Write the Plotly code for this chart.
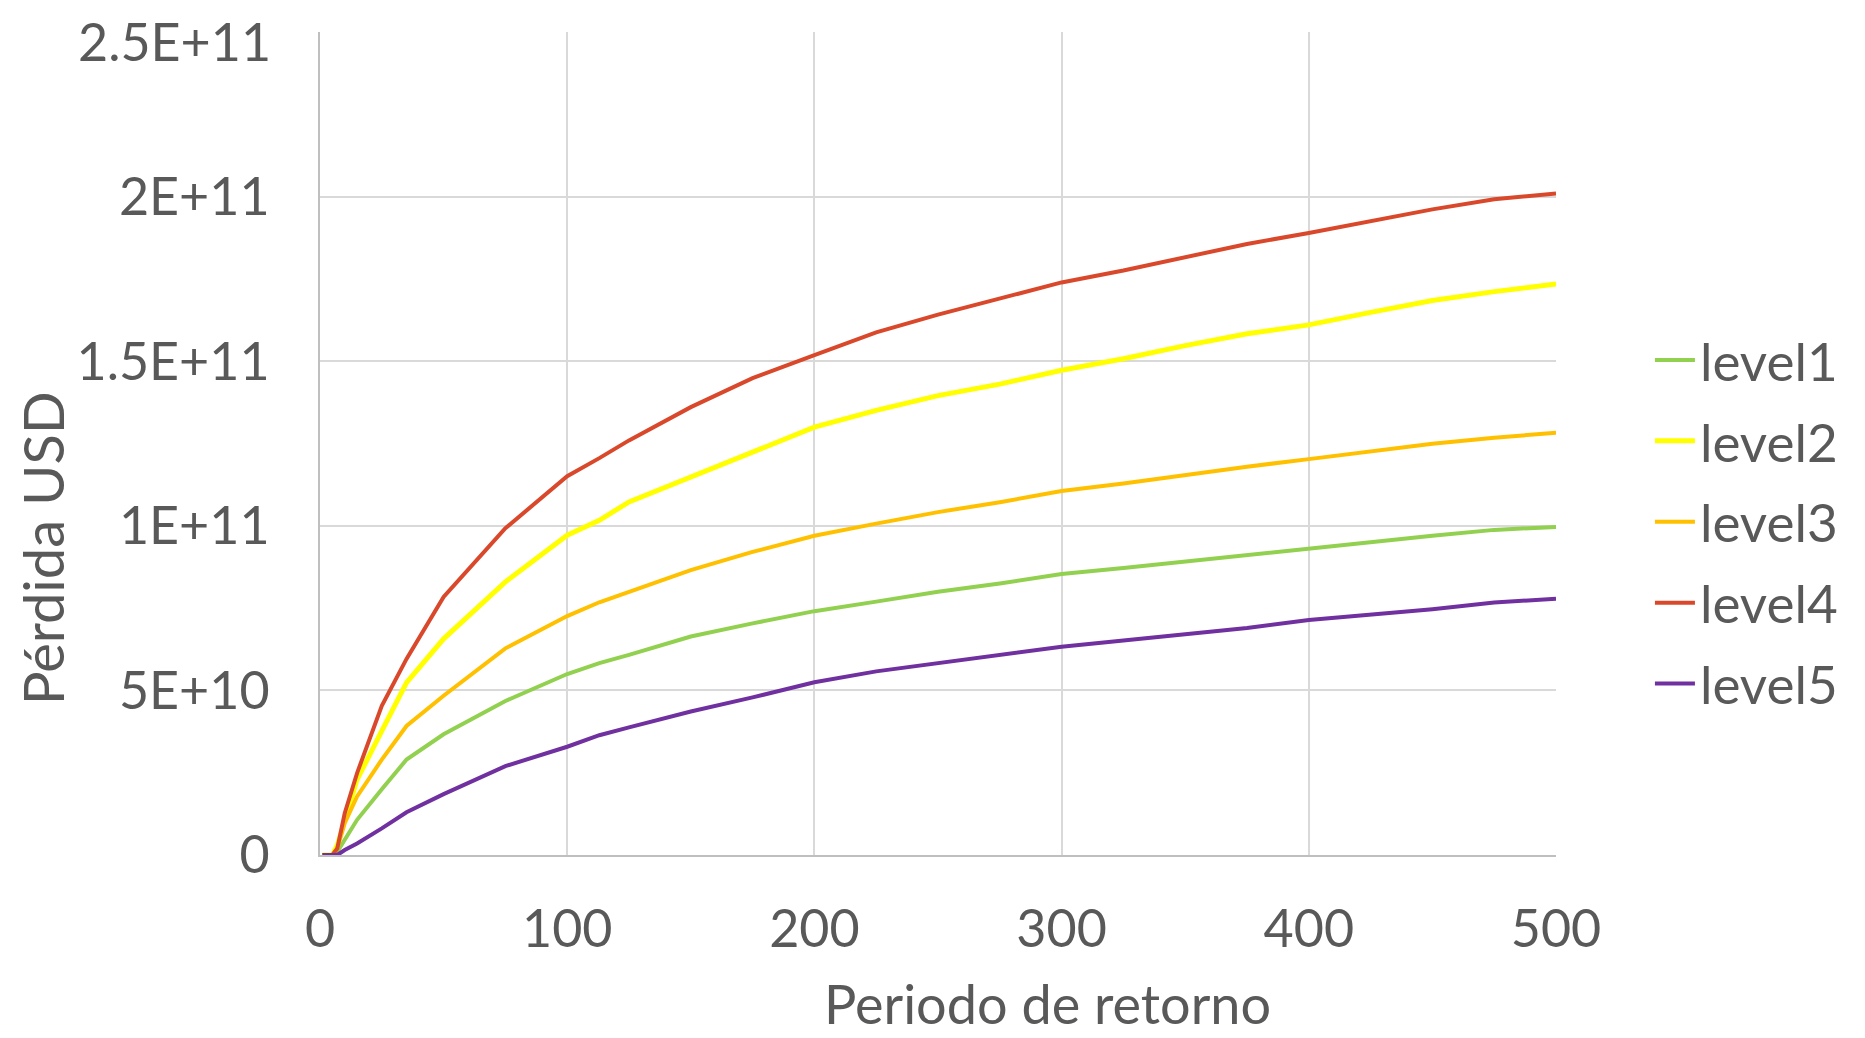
import plotly.graph_objects as go

periodo = [1, 5, 7, 10, 15, 25, 35, 50, 75, 100, 113, 125, 150, 175, 200, 225, 250,
           275, 300, 325, 350, 375, 400, 425, 450, 475, 500]

level1 = [0, 0, 1.0e9, 4.6e9, 1.07e10, 2.0e10, 2.9e10, 3.67e10, 4.68e10, 5.5e10, 5.83e10, 6.08e10,
          6.64e10, 7.04e10, 7.41e10, 7.7e10, 8.0e10, 8.25e10, 8.54e10, 8.72e10, 8.92e10, 9.1e10,
          9.29e10, 9.49e10, 9.7e10, 9.88e10, 9.97e10]
level2 = [0, 0, 3.0e9, 1.07e10, 2.29e10, 3.77e10, 5.24e10, 6.57e10, 8.3e10, 9.72e10, 1.017e11, 1.073e11,
          1.148e11, 1.222e11, 1.3e11, 1.351e11, 1.396e11, 1.431e11, 1.473e11, 1.508e11, 1.548e11, 1.584e11,
          1.611e11, 1.649e11, 1.685e11, 1.712e11, 1.735e11]
level3 = [0, 0, 2.0e9, 9.7e9, 1.78e10, 2.9e10, 3.92e10, 4.84e10, 6.28e10, 7.26e10, 7.68e10, 8.0e10,
          8.66e10, 9.21e10, 9.7e10, 1.007e11, 1.042e11, 1.072e11, 1.106e11, 1.129e11, 1.155e11, 1.18e11,
          1.203e11, 1.227e11, 1.25e11, 1.268e11, 1.283e11]
level4 = [0, 0, 2.0e9, 1.27e10, 2.49e10, 4.53e10, 5.96e10, 7.84e10, 9.93e10, 1.151e11, 1.206e11, 1.26e11,
          1.361e11, 1.449e11, 1.519e11, 1.588e11, 1.642e11, 1.69e11, 1.74e11, 1.776e11, 1.818e11, 1.857e11,
          1.89e11, 1.925e11, 1.962e11, 1.993e11, 2.01e11]
level5 = [0, 0, 0, 1.5e9, 3.5e9, 8.1e9, 1.3e10, 1.85e10, 2.7e10, 3.29e10, 3.64e10, 3.88e10,
          4.36e10, 4.79e10, 5.25e10, 5.58e10, 5.83e10, 6.08e10, 6.33e10, 6.52e10, 6.7e10, 6.9e10,
          7.14e10, 7.3e10, 7.47e10, 7.67e10, 7.79e10]

series = [("level1", level1, "#92D050", 4),
          ("level2", level2, "#FFFF00", 5),
          ("level3", level3, "#FFC000", 4),
          ("level4", level4, "#D9482B", 4),
          ("level5", level5, "#7030A0", 4)]

x_ticks = [0, 100, 200, 300, 400, 500]
y_ticks = [0, 5e10, 1e11, 1.5e11, 2e11, 2.5e11]
y_ticklabels = ["0", "5E+10", "1E+11", "1.5E+11", "2E+11", "2.5E+11"]

FONT = "Century Gothic, URW Gothic, Lato, sans-serif"
TXT = "#595959"

# page has an 8px body margin, so the figure is drawn 8px in from the window corner
W, H = 1857, 1030
L, T, PW, PH = 312, 24, 1236, 823

fig = go.Figure()
for name, vals, color, w in series:
    fig.add_trace(go.Scatter(x=periodo, y=vals, mode="lines", name=name, legendgroup=name,
                             line=dict(color=color, width=w)))

fig.update_layout(
    width=W, height=H,
    margin=dict(l=L, r=W - L - PW, t=T, b=H - T - PH, autoexpand=False),
    paper_bgcolor="white", plot_bgcolor="white",
    font=dict(family=FONT, color=TXT, size=52),
    legend=dict(x=1.076, y=(855 - 522) / 823, xanchor="left", yanchor="middle", tracegroupgap=9,
                font=dict(size=53, color=TXT), itemwidth=40),
    showlegend=True,
)
fig.update_xaxes(range=[0, 500], tickvals=x_ticks, showgrid=True, gridcolor="#D9D9D9", gridwidth=2,
                 showline=True, linecolor="#BFBFBF", linewidth=2, zeroline=False, automargin=False,
                 ticks="", ticklabelstandoff=28, tickfont=dict(size=52, color=TXT),
                 ticklabeloverflow="allow")
# the top label sits at the very edge of the page, so it is drawn as an annotation just below it
fig.update_yaxes(range=[0, 2.5e11 * 1.0004], tickvals=y_ticks,
                 ticktext=y_ticklabels[:-1] + [""], showgrid=True,
                 gridcolor="#D9D9D9", gridwidth=2, showline=True, linecolor="#BFBFBF", linewidth=2,
                 zeroline=False, automargin=False, ticks="", ticklabelstandoff=38,
                 tickfont=dict(size=52, color=TXT), ticklabeloverflow="allow")
fig.add_annotation(text=y_ticklabels[-1], xref="paper", yref="paper", x=(272 - 320) / PW,
                   y=1 + (T - 1) / PH, xanchor="right", yanchor="top", showarrow=False,
                   font=dict(size=52, color=TXT), borderpad=0)

fig.add_annotation(text="Periodo de retorno", xref="paper", yref="paper", x=(1047 - 320) / PW,
                   y=-(1004 - 855) / PH, xanchor="center", yanchor="middle", showarrow=False,
                   font=dict(size=54, color=TXT))
fig.add_annotation(text="Pérdida USD", xref="paper", yref="paper", x=-(320 - 42) / PW,
                   y=(855 - 548) / PH, xanchor="center", yanchor="middle", textangle=-90,
                   showarrow=False, font=dict(size=56, color=TXT))

fig.write_html("out.html")
